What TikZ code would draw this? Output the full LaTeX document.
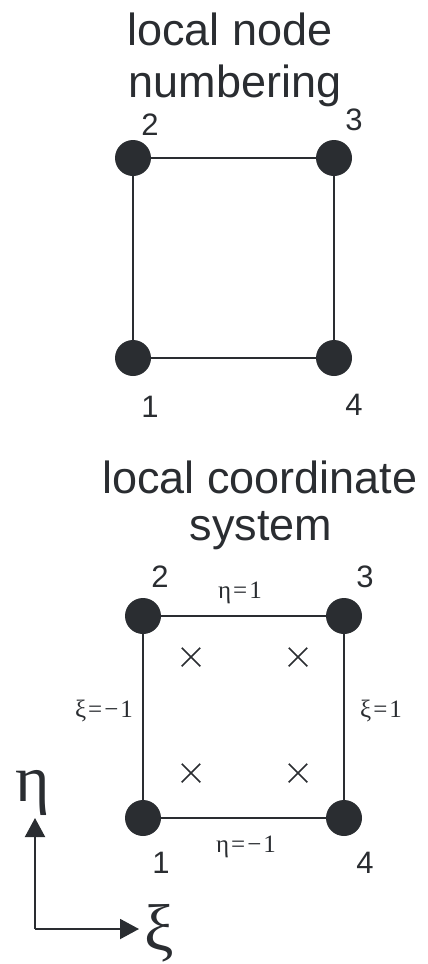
\documentclass[tikz,border=0pt]{standalone}
\usepackage{fontspec}
\setmainfont{Liberation Sans}
\newfontfamily\serif{Liberation Serif}
\newfontfamily\serifw[LetterSpace=8]{Liberation Serif}
\usetikzlibrary{arrows.meta,shapes.misc}
\definecolor{ink}{HTML}{2A2D31}
\begin{document}
\begin{tikzpicture}[x=1pt,y=-1pt,
 dot/.style={circle,fill=ink,inner sep=0pt,minimum size=36pt},
 edge/.style={draw=ink,line width=2pt},
 title/.style={anchor=base,text=ink,font=\fontsize{45}{52}\selectfont,inner sep=0pt},
 num/.style={anchor=base,text=ink,font=\fontsize{31}{36}\selectfont,inner sep=0pt},
 lab/.style={anchor=base,text=ink,font=\serifw\fontsize{25}{28}\selectfont,inner sep=0pt},
 gp/.style={cross out,draw=ink,line width=1.5pt,minimum size=17pt,inner sep=0pt},
 axis/.style={draw=ink,line width=2pt,-{Triangle[length=19pt,width=20pt]}},
 big/.style={text=ink,font=\serif\fontsize{66}{70}\selectfont,inner sep=0pt}]
\useasboundingbox (0,0) rectangle (428,964);
% --- top: local node numbering
\node[title] (t1) at (230,45) {local node};
\node[title] (t2) at (235,97) {numbering};
\node[dot] (a2) at (133,158) {};
\node[dot] (a3) at (334,158) {};
\node[dot] (a1) at (133,358) {};
\node[dot] (a4) at (334,358) {};
\draw[edge] (a1) -- (a2) -- (a3) -- (a4) -- (a1);
\node[num] (na2) at (150,135) {2};
\node[num] (na3) at (354,130) {3};
\node[num] (na1) at (150,417) {1};
\node[num] (na4) at (354,415) {4};
% --- bottom: local coordinate system
\node[title] (t3) at (260,493) {local coordinate};
\node[title] (t4) at (261,540) {system};
\node[dot] (b2) at (143,616) {};
\node[dot] (b3) at (344,616) {};
\node[dot] (b1) at (143,818) {};
\node[dot] (b4) at (344,818) {};
\draw[edge] (b1) -- (b2) -- (b3) -- (b4) -- (b1);
\node[num] (nb2) at (160,587) {2};
\node[num] (nb3) at (365,587) {3};
\node[num] (nb1) at (161,873) {1};
\node[num] (nb4) at (365,873) {4};
\node[lab] (etop) at (240,598) {η=1};
\node[lab] (ebot) at (246,852) {η=−1};
\node[lab] (xl) at (104,717) {ξ=−1};
\node[lab] (xr) at (381,717) {ξ=1};
\node[gp] (g1) at (191,657) {};
\node[gp] (g2) at (298,657) {};
\node[gp] (g3) at (191,773) {};
\node[gp] (g4) at (298,773) {};
% --- axes
\coordinate (o) at (35,929);
\coordinate (ytip) at (35,818);
\coordinate (xtip) at (139,929);
\draw[axis] (o) -- (ytip);
\draw[axis] (o) -- (xtip);
\node[big] (eta) at (33,793) {η};
\node[big] (xi) at (159,933) {ξ};
\end{tikzpicture}
\end{document}
